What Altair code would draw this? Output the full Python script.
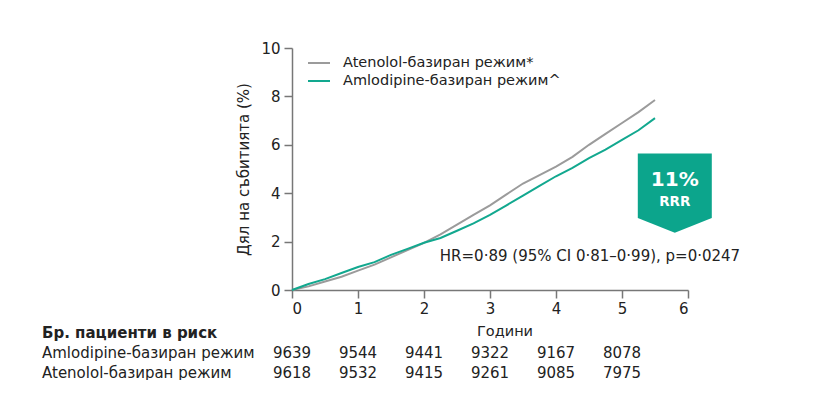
import altair as alt
import pandas as pd

# ---- data ----
years = [0, 0.25, 0.5, 0.75, 1.0, 1.25, 1.5, 1.75, 2.0, 2.25, 2.5, 2.75,
         3.0, 3.25, 3.5, 3.75, 4.0, 4.25, 4.5, 4.75, 5.0, 5.25, 5.5]
atenolol = [0, 0.15, 0.35, 0.55, 0.8, 1.05, 1.35, 1.65, 1.95, 2.3, 2.7, 3.1,
            3.5, 3.95, 4.4, 4.75, 5.1, 5.5, 6.0, 6.45, 6.9, 7.35, 7.85]
amlodipine = [0, 0.25, 0.45, 0.7, 0.95, 1.15, 1.45, 1.7, 1.95, 2.15, 2.45, 2.75,
              3.1, 3.5, 3.9, 4.3, 4.7, 5.05, 5.45, 5.8, 6.2, 6.6, 7.1]

series_names = ["Atenolol-базиран режим*", "Amlodipine-базиран режим^"]
series_colors = ["#9b9b9b", "#12a88f"]

risk_years = [0, 1, 2, 3, 4, 5]
risk_amlodipine = [9639, 9544, 9441, 9322, 9167, 8078]
risk_atenolol = [9618, 9532, 9415, 9261, 9085, 7975]
risk_labels = ["Amlodipine-базиран режим", "Atenolol-базиран режим"]
risk_header = "Бр. пациенти в риск"

x_ticks = [0, 1, 2, 3, 4, 5, 6]
y_ticks = [0, 2, 4, 6, 8, 10]

FONT = "DejaVu Sans"
TXT = "#222222"
AX = "#777777"

curves = pd.DataFrame({
    "year": years * 2,
    "pct": atenolol + amlodipine,
    "series": [series_names[0]] * len(years) + [series_names[1]] * len(years),
})

xs = alt.Scale(domain=[0, 6], nice=False)
ys = alt.Scale(domain=[0, 10], nice=False)

lines = alt.Chart(curves).mark_line(strokeWidth=2).encode(
    x=alt.X("year:Q", scale=xs, axis=alt.Axis(
        values=x_ticks, format="d", title=None, grid=False, domainColor=AX,
        tickColor=AX, tickSize=8, labelFontSize=15, labelColor=TXT,
        labelFont=FONT, labelPadding=3, domainWidth=1.5, tickWidth=1.5)),
    y=alt.Y("pct:Q", scale=ys, axis=alt.Axis(
        values=y_ticks, format="d", title="Дял на събитията (%)", grid=False,
        domainColor=AX, tickColor=AX, tickSize=8, labelFontSize=15,
        labelColor=TXT, labelFont=FONT, labelPadding=4, titleFont=FONT,
        titleFontSize=15, titleFontWeight="normal", titleColor=TXT,
        titlePadding=9, domainWidth=1.5, tickWidth=1.5)),
    color=alt.Color("series:N", scale=alt.Scale(domain=series_names, range=series_colors),
                    legend=None),
    order="year:Q",
)

# legend (manual)
leg_layers = []
for i, (name, col) in enumerate(zip(series_names, series_colors)):
    ldf = pd.DataFrame({"name": [name]})
    yy = 15 + 18 * i
    leg_layers.append(alt.Chart(ldf).mark_rule(color=col, strokeWidth=2).encode(
        x=alt.value(16), x2=alt.value(38), y=alt.value(yy)))
    leg_layers.append(alt.Chart(ldf).mark_text(
        align="left", baseline="middle", font=FONT, fontSize=14.5, color=TXT).encode(
        x=alt.value(51), y=alt.value(yy), text="name:N"))

# badge
badge_df = pd.DataFrame({"x": [5.8], "y": [4.0], "t1": ["11%"], "t2": ["RRR"]})
badge = alt.Chart(badge_df).mark_point(
    shape="M-1,-1.07L1,-1.07L1,0.67L0,1.07L-1,0.67Z", size=5476, filled=True,
    fill="#0ca58c", opacity=1, strokeWidth=0).encode(
    x=alt.X("x:Q", scale=xs), y=alt.Y("y:Q", scale=ys))
badge_t1 = alt.Chart(badge_df).mark_text(
    font=FONT, fontSize=20, fontWeight="bold", color="white", dy=-13).encode(
    x=alt.X("x:Q", scale=xs), y=alt.Y("y:Q", scale=ys), text="t1:N")
badge_t2 = alt.Chart(badge_df).mark_text(
    font=FONT, fontSize=13.5, fontWeight="bold", color="white", dy=9).encode(
    x=alt.X("x:Q", scale=xs), y=alt.Y("y:Q", scale=ys), text="t2:N")

hr_df = pd.DataFrame({"x": [2.24], "y": [1.4],
                      "t": ["HR=0·89 (95% CI 0·81–0·99), p=0·0247"]})
hr = alt.Chart(hr_df).mark_text(
    align="left", baseline="middle", font=FONT, fontSize=15, color=TXT).encode(
    x=alt.X("x:Q", scale=xs), y=alt.Y("y:Q", scale=ys), text="t:N")

# x title
xt = alt.Chart(pd.DataFrame({"t": ["Години"]})).mark_text(
    font=FONT, fontSize=14.5, color=TXT, baseline="middle").encode(
    x=alt.value(213), y=alt.value(284), text="t:N")

# at-risk table
hdr = alt.Chart(pd.DataFrame({"t": [risk_header]})).mark_text(
    align="left", baseline="middle", font=FONT, fontSize=15, fontWeight="bold",
    color=TXT).encode(x=alt.value(-250), y=alt.value(285), text="t:N")

tab_layers = [hdr]
for i, (lab, vals) in enumerate(zip(risk_labels, [risk_amlodipine, risk_atenolol])):
    yy = 305 + 19.5 * i
    tab_layers.append(alt.Chart(pd.DataFrame({"t": [lab]})).mark_text(
        align="left", baseline="middle", font=FONT, fontSize=15, color=TXT).encode(
        x=alt.value(-250), y=alt.value(yy), text="t:N"))
    tdf = pd.DataFrame({"year": risk_years, "n": [str(v) for v in vals]})
    tab_layers.append(alt.Chart(tdf).mark_text(
        align="center", baseline="middle", font=FONT, fontSize=15, color=TXT).encode(
        x=alt.X("year:Q", scale=xs), y=alt.value(yy), text="n:N"))

chart = alt.layer(lines, *leg_layers, badge, badge_t1, badge_t2, hr, xt, *tab_layers).properties(
    width=396, height=242,
    autosize=alt.AutoSizeParams(type="none"),
    padding={"left": 284, "top": 40, "right": 110, "bottom": 90},
    background="white",
).configure_view(stroke=None)

chart.save("out.html", embed_options={"renderer": "svg", "actions": False})
